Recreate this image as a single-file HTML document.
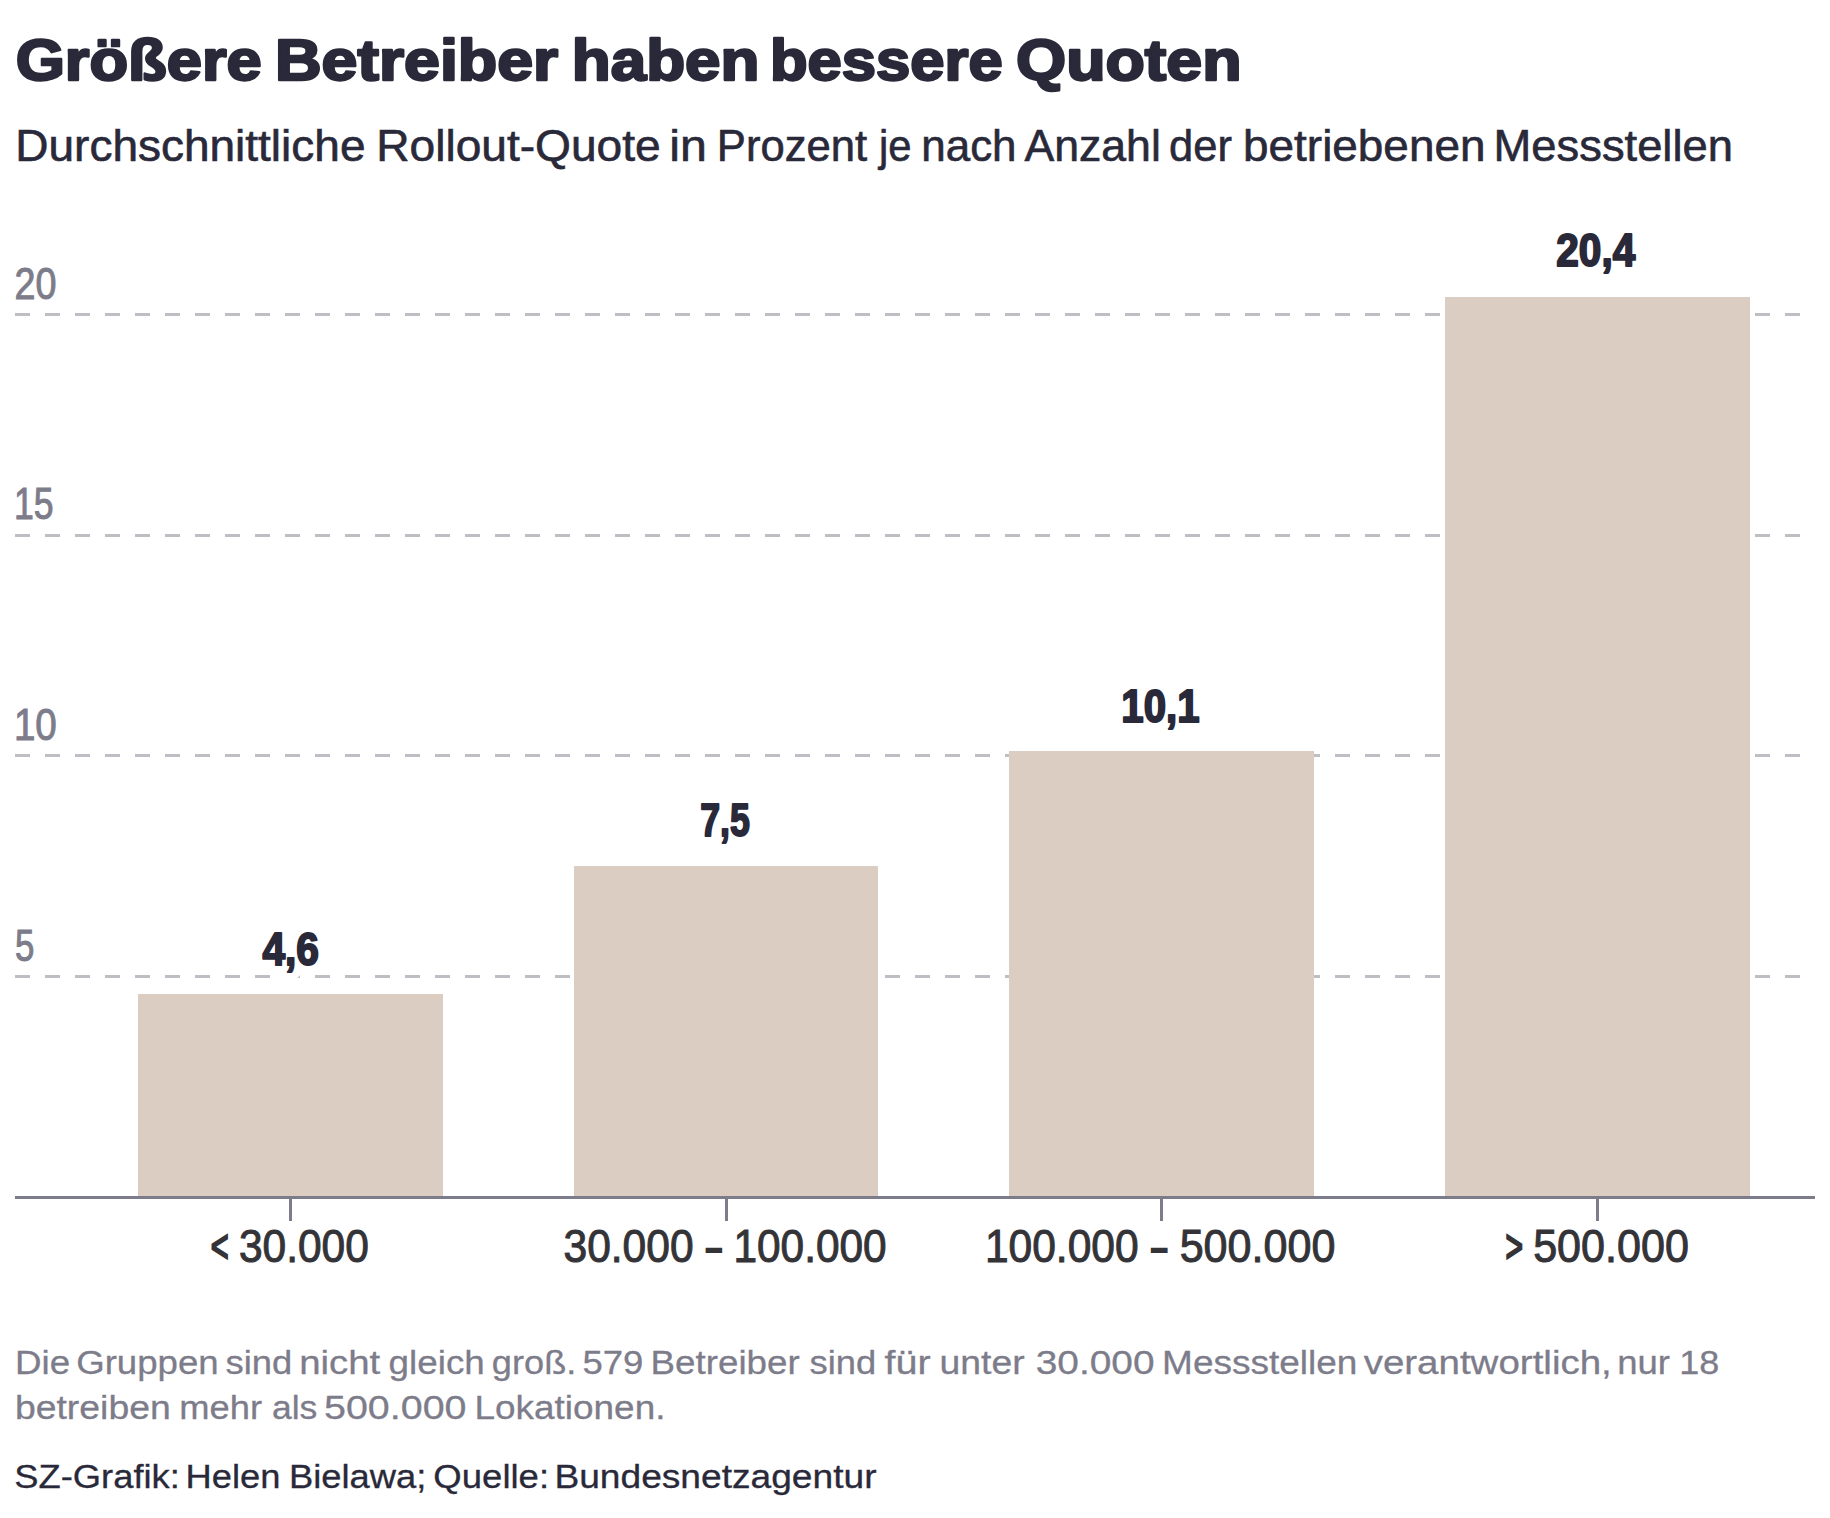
<!DOCTYPE html>
<html lang="de"><head><meta charset="utf-8"><title>Größere Betreiber haben bessere Quoten</title>
<style>
html,body{margin:0;padding:0;background:#fff;}
body{width:1830px;height:1518px;overflow:hidden;}
svg{display:block;}
text{font-family:"Liberation Sans","DejaVu Sans",sans-serif;}
.title{font-weight:bold;fill:#29293a;stroke:#29293a;stroke-width:2.4px;stroke-linejoin:round;}
.sub{fill:#29293a;stroke:#29293a;stroke-width:0.6px;}
.ylab{fill:#7d7c8a;stroke:#7d7c8a;stroke-width:1.0px;}
.val{font-weight:bold;fill:#29293a;stroke:#29293a;stroke-width:2px;stroke-linejoin:round;}
.xlab{fill:#333338;stroke:#333338;stroke-width:1.0px;}
.note{fill:#7d7c8a;stroke:#7d7c8a;stroke-width:0.3px;}
.src{fill:#29293a;stroke:#29293a;stroke-width:0.3px;}
</style></head><body>
<svg width="1830" height="1518" viewBox="0 0 1830 1518">
<rect x="0" y="0" width="1830" height="1518" fill="#fff"/>
<g class="title" font-size="57.4">
<text x="15.67" y="79.7" textLength="246.1" lengthAdjust="spacingAndGlyphs">Größere</text>
<text x="275.0" y="79.7" textLength="283.21" lengthAdjust="spacingAndGlyphs">Betreiber</text>
<text x="571.8" y="79.7" textLength="187.71" lengthAdjust="spacingAndGlyphs">haben</text>
<text x="769.93" y="79.7" textLength="232.73" lengthAdjust="spacingAndGlyphs">bessere</text>
<text x="1016.06" y="79.7" textLength="225.46" lengthAdjust="spacingAndGlyphs">Quoten</text>
</g>
<g class="sub" font-size="43.5">
<text x="15.3" y="161.4" textLength="350.17" lengthAdjust="spacingAndGlyphs">Durchschnittliche</text>
<text x="376.19" y="161.4" textLength="284.54" lengthAdjust="spacingAndGlyphs">Rollout-Quote</text>
<text x="669.37" y="161.4" textLength="37.61" lengthAdjust="spacingAndGlyphs">in</text>
<text x="716.83" y="161.4" textLength="150.36" lengthAdjust="spacingAndGlyphs">Prozent</text>
<text x="878.9" y="161.4" textLength="32.55" lengthAdjust="spacingAndGlyphs">je</text>
<text x="921.28" y="161.4" textLength="95.26" lengthAdjust="spacingAndGlyphs">nach</text>
<text x="1024.48" y="161.4" textLength="136.35" lengthAdjust="spacingAndGlyphs">Anzahl</text>
<text x="1169.07" y="161.4" textLength="62.8" lengthAdjust="spacingAndGlyphs">der</text>
<text x="1243.08" y="161.4" textLength="242.35" lengthAdjust="spacingAndGlyphs">betriebenen</text>
<text x="1493.64" y="161.4" textLength="239.27" lengthAdjust="spacingAndGlyphs">Messstellen</text>
</g>
<line x1="15" x2="1815" y1="976.5" y2="976.5" stroke="#bfbec5" stroke-width="3" stroke-dasharray="15 15"/>
<line x1="15" x2="1815" y1="755.5" y2="755.5" stroke="#bfbec5" stroke-width="3" stroke-dasharray="15 15"/>
<line x1="15" x2="1815" y1="535.5" y2="535.5" stroke="#bfbec5" stroke-width="3" stroke-dasharray="15 15"/>
<line x1="15" x2="1815" y1="314.5" y2="314.5" stroke="#bfbec5" stroke-width="3" stroke-dasharray="15 15"/>
<g class="ylab" font-size="43.9">
<text x="14.52" y="298.6" textLength="41.94" lengthAdjust="spacingAndGlyphs">20</text>
</g>
<g class="ylab" font-size="43.9">
<text x="13.99" y="519.3" textLength="39.63" lengthAdjust="spacingAndGlyphs">15</text>
</g>
<g class="ylab" font-size="43.9">
<text x="13.88" y="740.1" textLength="42.9" lengthAdjust="spacingAndGlyphs">10</text>
</g>
<g class="ylab" font-size="43.9">
<text x="15.03" y="960.8" textLength="19.4" lengthAdjust="spacingAndGlyphs">5</text>
</g>
<rect x="138" y="994" width="305" height="203" fill="#dbcdc2"/>
<rect x="574" y="866" width="304" height="331" fill="#dbcdc2"/>
<rect x="1009" y="751" width="305" height="446" fill="#dbcdc2"/>
<rect x="1445" y="297" width="305" height="900" fill="#dbcdc2"/>
<line x1="15" x2="1815" y1="1197.5" y2="1197.5" stroke="#7d7c8a" stroke-width="3"/>
<line x1="290.5" x2="290.5" y1="1197.5" y2="1221" stroke="#7d7c8a" stroke-width="3"/>
<line x1="726.5" x2="726.5" y1="1197.5" y2="1221" stroke="#7d7c8a" stroke-width="3"/>
<line x1="1161.5" x2="1161.5" y1="1197.5" y2="1221" stroke="#7d7c8a" stroke-width="3"/>
<line x1="1597.5" x2="1597.5" y1="1197.5" y2="1221" stroke="#7d7c8a" stroke-width="3"/>
<polygon points="283.5,972 301,972 301,974.3 295.8,979.5 283.5,979.5" fill="#fff"/>
<g class="val" font-size="46.6">
<text x="262.38" y="964.6" textLength="56.64" lengthAdjust="spacingAndGlyphs">4,6</text>
</g>
<g class="val" font-size="46.6">
<text x="700.21" y="835.9" textLength="49.69" lengthAdjust="spacingAndGlyphs">7,5</text>
</g>
<g class="val" font-size="46.6">
<text x="1121.33" y="721.9" textLength="78.23" lengthAdjust="spacingAndGlyphs">10,1</text>
</g>
<g class="val" font-size="46.6">
<text x="1556.29" y="265.9" textLength="78.91" lengthAdjust="spacingAndGlyphs">20,4</text>
</g>
<g class="xlab" font-size="46.4">
<text x="210.7" y="1262.4" style="stroke-width:2.2px" textLength="17.93" lengthAdjust="spacingAndGlyphs">&lt;</text>
<text x="238.93" y="1262.4" textLength="129.94" lengthAdjust="spacingAndGlyphs">30.000</text>
</g>
<g class="xlab" font-size="46.4">
<text x="563.49" y="1262.4" textLength="130.09" lengthAdjust="spacingAndGlyphs">30.000</text>
<text x="706.29" y="1262.4" style="stroke-width:2.2px" textLength="15.21" lengthAdjust="spacingAndGlyphs">–</text>
<text x="733.41" y="1262.4" textLength="153.31" lengthAdjust="spacingAndGlyphs">100.000</text>
</g>
<g class="xlab" font-size="46.4">
<text x="984.91" y="1262.4" textLength="153.76" lengthAdjust="spacingAndGlyphs">100.000</text>
<text x="1151.51" y="1262.4" style="stroke-width:2.2px" textLength="15.36" lengthAdjust="spacingAndGlyphs">–</text>
<text x="1179.63" y="1262.4" textLength="155.73" lengthAdjust="spacingAndGlyphs">500.000</text>
</g>
<g class="xlab" font-size="46.4">
<text x="1505.42" y="1262.4" style="stroke-width:2.2px" textLength="17.51" lengthAdjust="spacingAndGlyphs">&gt;</text>
<text x="1533.14" y="1262.4" textLength="155.8" lengthAdjust="spacingAndGlyphs">500.000</text>
</g>
<g class="note" font-size="33.2">
<text x="14.99" y="1374.0" textLength="55.12" lengthAdjust="spacingAndGlyphs">Die</text>
<text x="76.18" y="1374.0" textLength="142.58" lengthAdjust="spacingAndGlyphs">Gruppen</text>
<text x="225.56" y="1374.0" textLength="66.69" lengthAdjust="spacingAndGlyphs">sind</text>
<text x="299.18" y="1374.0" textLength="81.07" lengthAdjust="spacingAndGlyphs">nicht</text>
<text x="388.63" y="1374.0" textLength="96.2" lengthAdjust="spacingAndGlyphs">gleich</text>
<text x="491.88" y="1374.0" textLength="84.46" lengthAdjust="spacingAndGlyphs">groß.</text>
<text x="582.47" y="1374.0" textLength="60.92" lengthAdjust="spacingAndGlyphs">579</text>
<text x="650.61" y="1374.0" textLength="149.02" lengthAdjust="spacingAndGlyphs">Betreiber</text>
<text x="809.56" y="1374.0" textLength="66.69" lengthAdjust="spacingAndGlyphs">sind</text>
<text x="884.5" y="1374.0" textLength="46.05" lengthAdjust="spacingAndGlyphs">für</text>
<text x="939.62" y="1374.0" textLength="85.06" lengthAdjust="spacingAndGlyphs">unter</text>
<text x="1035.77" y="1374.0" textLength="118.83" lengthAdjust="spacingAndGlyphs">30.000</text>
<text x="1162.12" y="1374.0" textLength="195.32" lengthAdjust="spacingAndGlyphs">Messstellen</text>
<text x="1363.67" y="1374.0" textLength="248.12" lengthAdjust="spacingAndGlyphs">verantwortlich,</text>
<text x="1617.17" y="1374.0" textLength="52.78" lengthAdjust="spacingAndGlyphs">nur</text>
<text x="1679.19" y="1374.0" textLength="39.98" lengthAdjust="spacingAndGlyphs">18</text>
</g>
<g class="note" font-size="33.2">
<text x="14.94" y="1418.9" textLength="155.78" lengthAdjust="spacingAndGlyphs">betreiben</text>
<text x="179.32" y="1418.9" textLength="82.78" lengthAdjust="spacingAndGlyphs">mehr</text>
<text x="271.93" y="1418.9" textLength="45.42" lengthAdjust="spacingAndGlyphs">als</text>
<text x="324.02" y="1418.9" textLength="142.47" lengthAdjust="spacingAndGlyphs">500.000</text>
<text x="474.56" y="1418.9" textLength="190.9" lengthAdjust="spacingAndGlyphs">Lokationen.</text>
</g>
<g class="src" font-size="33.2">
<text x="14.3" y="1487.8" textLength="165.56" lengthAdjust="spacingAndGlyphs">SZ-Grafik:</text>
<text x="185.51" y="1487.8" textLength="94.94" lengthAdjust="spacingAndGlyphs">Helen</text>
<text x="289.02" y="1487.8" textLength="137.29" lengthAdjust="spacingAndGlyphs">Bielawa;</text>
<text x="433.38" y="1487.8" textLength="115.68" lengthAdjust="spacingAndGlyphs">Quelle:</text>
<text x="554.41" y="1487.8" textLength="322.13" lengthAdjust="spacingAndGlyphs">Bundesnetzagentur</text>
</g>
</svg>
</body></html>
